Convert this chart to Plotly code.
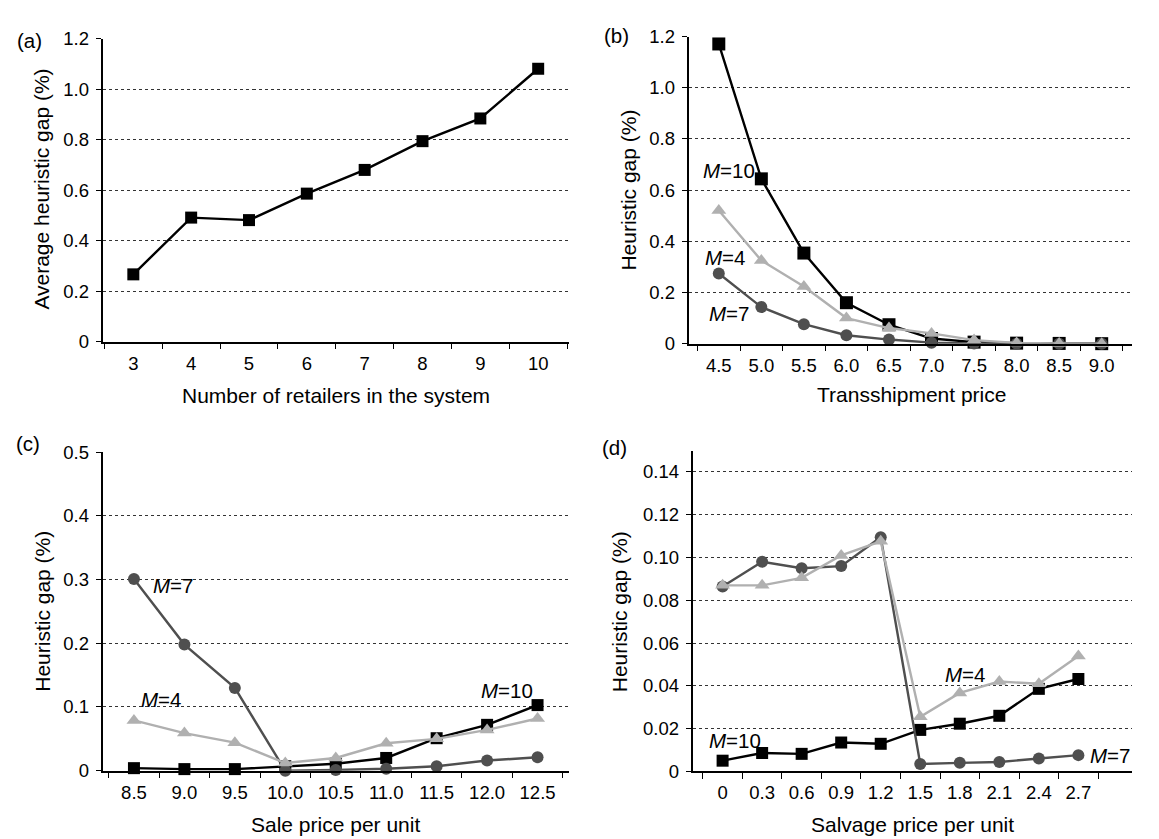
import plotly.graph_objects as go

# ---------------- data ----------------
retailers = ["3", "4", "5", "6", "7", "8", "9", "10"]
avg_gap = [0.267, 0.492, 0.482, 0.587, 0.681, 0.795, 0.885, 1.082]

trans_price = ["4.5", "5.0", "5.5", "6.0", "6.5", "7.0", "7.5", "8.0", "8.5", "9.0"]
b_m10 = [1.171, 0.644, 0.354, 0.160, 0.074, 0.020, 0.006, 0.002, 0.001, 0.0]
b_m4 = [0.520, 0.325, 0.223, 0.100, 0.061, 0.040, 0.014, 0.003, 0.001, 0.0]
b_m7 = [0.274, 0.143, 0.076, 0.033, 0.016, 0.004, 0.001, 0.0, 0.0, 0.0]

sale_price = ["8.5", "9.0", "9.5", "10.0", "10.5", "11.0", "11.5", "12.0", "12.5"]
c_m10 = [0.004, 0.0025, 0.0025, 0.007, 0.011, 0.020, 0.051, 0.072, 0.103]
c_m4 = [0.079, 0.059, 0.044, 0.012, 0.020, 0.043, 0.050, 0.064, 0.082]
c_m7 = [0.301, 0.198, 0.130, 0.0, 0.001, 0.003, 0.007, 0.016, 0.021]

salvage_price = ["0", "0.3", "0.6", "0.9", "1.2", "1.5", "1.8", "2.1", "2.4", "2.7"]
d_m10 = [0.0050, 0.0086, 0.0082, 0.0135, 0.0129, 0.0194, 0.0223, 0.0260, 0.0386, 0.0432]
d_m4 = [0.0870, 0.0870, 0.0905, 0.1010, 0.1076, 0.0255, 0.0367, 0.0420, 0.0410, 0.0540]
d_m7 = [0.0865, 0.0980, 0.0950, 0.0960, 0.1095, 0.0035, 0.0040, 0.0044, 0.0060, 0.0076]

ab_ticks = [0, 0.2, 0.4, 0.6, 0.8, 1.0, 1.2]
ab_ticktext = ["0", "0.2", "0.4", "0.6", "0.8", "1.0", "1.2"]
c_ticks = [0, 0.1, 0.2, 0.3, 0.4, 0.5]
c_ticktext = ["0", "0.1", "0.2", "0.3", "0.4", "0.5"]
d_ticks = [0, 0.02, 0.04, 0.06, 0.08, 0.10, 0.12, 0.14]
d_ticktext = ["0", "0.02", "0.04", "0.06", "0.08", "0.10", "0.12", "0.14"]

# ---------------- style ----------------
W, H = 1159, 839
FONT = "Arial, Liberation Sans, Helvetica, sans-serif"
TICK_FS = 18.5
TITLE_FS = 21
LABEL_FS = 20.5
BLACK = "#000000"
LIGHT = "#b0b0b0"
DARK = "#4f4f4f"


def px(x):
    return x / W


def py(y):
    return 1 - y / H


fig = go.Figure()


def add_series(xa, ya, xs, ys, color, symbol, size):
    fig.add_trace(go.Scatter(
        x=xs, y=ys, mode="lines+markers", xaxis=xa, yaxis=ya,
        line=dict(color=color, width=2.4),
        marker=dict(color=color, symbol=symbol, size=size),
        cliponaxis=False, showlegend=False, hoverinfo="x+y"))


# panel a
add_series("x", "y", retailers, avg_gap, BLACK, "square", 12)
# panel b
add_series("x2", "y2", trans_price, b_m10, BLACK, "square", 13)
add_series("x2", "y2", trans_price, b_m7, DARK, "circle", 12)
add_series("x2", "y2", trans_price, b_m4, LIGHT, "triangle-up", 13)
# panel c
add_series("x3", "y3", sale_price, c_m10, BLACK, "square", 12)
add_series("x3", "y3", sale_price, c_m7, DARK, "circle", 12)
add_series("x3", "y3", sale_price, c_m4, LIGHT, "triangle-up", 13)
# panel d
add_series("x4", "y4", salvage_price, d_m10, BLACK, "square", 12)
add_series("x4", "y4", salvage_price, d_m7, DARK, "circle", 12)
add_series("x4", "y4", salvage_price, d_m4, LIGHT, "triangle-up", 13)

# domains in pixels (left, right, top, bottom)
dom = {
    1: (94.5, 561, 20.5, 331),
    2: (680.5, 1124, 18, 333),
    3: (94.5, 561, 444.3, 771),
    4: (684.5, 1124, 442.7, 771.7),
}
yinfo = {
    1: ([0, 1.2], ab_ticks, ab_ticktext),
    2: ([0, 1.2], ab_ticks, ab_ticktext),
    3: ([0, 0.5], c_ticks, c_ticktext),
    4: ([0, 0.15], d_ticks, d_ticktext),
}

layout = dict(
    width=W, height=H,
    margin=dict(l=0, r=0, t=0, b=0),
    paper_bgcolor="white", plot_bgcolor="white",
    font=dict(family=FONT, size=TICK_FS, color="black"),
    showlegend=False,
)
for i in range(1, 5):
    l, r, t, b = dom[i]
    sfx = "" if i == 1 else str(i)
    rng, tv, tt = yinfo[i]
    layout["xaxis" + sfx] = dict(
        domain=[px(l), px(r)], anchor="y" + sfx, type="category",
        showline=True, linecolor="black", linewidth=1.5,
        ticks="outside", ticklen=6, tickwidth=1.2, tickcolor="black",
        tickson="boundaries", showgrid=False, zeroline=False,
        tickangle=0, ticklabelstandoff=4, tickfont=dict(size=TICK_FS),
    )
    layout["yaxis" + sfx] = dict(
        domain=[py(b), py(t)], anchor="x" + sfx, range=rng,
        tickvals=tv, ticktext=tt,
        showline=True, linecolor="black", linewidth=1.5,
        ticks="outside", ticklen=5, tickwidth=1.2, tickcolor="black",
        showgrid=True, gridcolor="#333333", gridwidth=1, griddash="dot",
        zeroline=False, ticklabelstandoff=3, tickfont=dict(size=TICK_FS),
    )

fig.update_layout(**layout)

ann = []


def text(x, y, s, xref="paper", yref="paper", angle=0, size=LABEL_FS):
    ann.append(dict(x=x, y=y, xref=xref, yref=yref, text=s, showarrow=False,
                    textangle=angle, xanchor="center", yanchor="middle",
                    font=dict(family=FONT, size=size, color="black")))


# panel labels
text(px(21), py(22), "(a)")
text(px(608), py(17), "(b)")
text(px(20), py(435), "(c)")
text(px(607), py(440), "(d)")

# axis titles
text(px(34), py(175), "Average heuristic gap (%)", angle=-90, size=TITLE_FS)
text(px(327.5), py(386), "Number of retailers in the system", size=TITLE_FS)
text(px(621), py(176), "Heuristic gap (%)", angle=-90, size=TITLE_FS)
text(px(903), py(385), "Transshipment price", size=TITLE_FS)
text(px(35), py(608), "Heuristic gap (%)", angle=-90, size=TITLE_FS)
text(px(327.5), py(826), "Sale price per unit", size=TITLE_FS)
text(px(611.5), py(608), "Heuristic gap (%)", angle=-90, size=TITLE_FS)
text(px(904), py(826), "Salvage price per unit", size=TITLE_FS)

# series labels
text(0.23, 0.678, "<i>M</i>=10", "x2", "y2")
text(0.15, 0.335, "<i>M</i>=4", "x2", "y2")
text(0.25, 0.118, "<i>M</i>=7", "x2", "y2")

text(0.78, 0.29, "<i>M</i>=7", "x3", "y3")
text(0.54, 0.111, "<i>M</i>=4", "x3", "y3")
text(7.39, 0.1265, "<i>M</i>=10", "x3", "y3")

text(0.31, 0.0144, "<i>M</i>=10", "x4", "y4")
text(6.13, 0.0455, "<i>M</i>=4", "x4", "y4")
text(9.8, 0.0076, "<i>M</i>=7", "x4", "y4")

fig.update_layout(annotations=ann)
fig.write_html("out.html")
